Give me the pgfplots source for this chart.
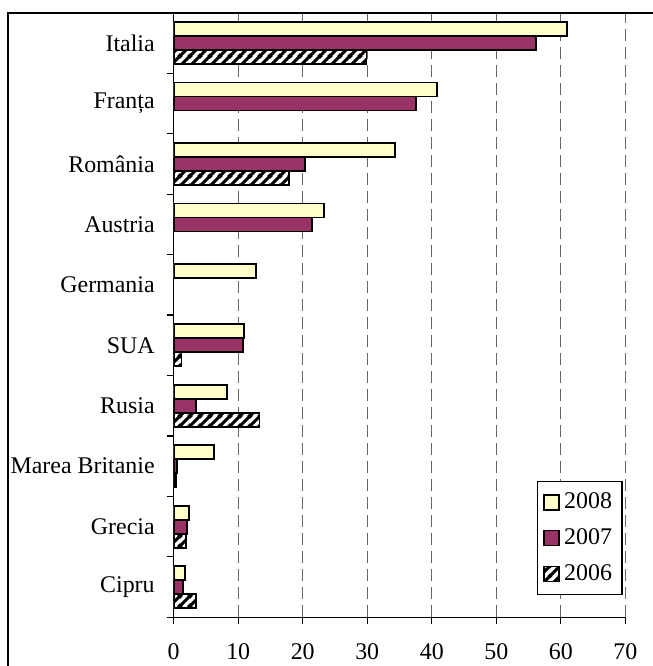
\documentclass[border=0pt]{standalone}
\usepackage{fontspec}
\setmainfont{Liberation Serif}
\usepackage{pgfplots}
\pgfplotsset{compat=1.18}
\usetikzlibrary{patterns}
\definecolor{c2008}{HTML}{FFFFCC}
\definecolor{c2007}{HTML}{993366}
% wide diagonal stripes for the 2006 bars
\pgfdeclarepatternformonly{widestripes}{\pgfqpoint{0bp}{0bp}}{\pgfqpoint{5bp}{5bp}}{\pgfqpoint{5bp}{5bp}}{%
  \pgfsetlinewidth{1.6bp}%
  \pgfpathmoveto{\pgfqpoint{-1bp}{-1bp}}\pgfpathlineto{\pgfqpoint{6bp}{6bp}}%
  \pgfpathmoveto{\pgfqpoint{-1bp}{4bp}}\pgfpathlineto{\pgfqpoint{1bp}{6bp}}%
  \pgfpathmoveto{\pgfqpoint{4bp}{-1bp}}\pgfpathlineto{\pgfqpoint{6bp}{1bp}}%
  \pgfusepath{stroke}}

\begin{document}
\begin{tikzpicture}
\useasboundingbox (-86.85bp,-24.35bp) rectangle (239.65bp,308.65bp);
\begin{axis}[at={(0,0)},anchor=south west,scale only axis,width=225.8bp,height=302.2bp,
  xbar,bar width=7bp,
  xmin=0,xmax=70,xtick={0,10,...,70},
  ymin=-0.5,ymax=9.5,ytick={0,...,9},
  yticklabels={Cipru,Grecia,Marea Britanie,Rusia,SUA,Germania,Austria,România,Franța,Italia},
  minor ytick={-0.5,0.5,...,9.5},
  axis x line*=bottom,axis y line*=left,axis line style={line width=0.6bp},
  tick align=outside,major tick length=3.5bp,minor tick length=3.5bp,
  tick style={black,line width=0.6bp},major y tick style={draw=none},
  xmajorgrids,major x grid style={gray!80!black,line width=0.5bp,dash pattern=on 6bp off 3bp},
  tick label style={font=\fontsize{12}{14}\selectfont},
  xticklabel style={yshift=-6bp},
  yticklabel style={xshift=-2.5bp},
  /pgf/number format/assume math mode=true,
  legend cell align=left,
  legend style={at={(0.994,0.037)},anchor=south east,draw=black,line width=0.6bp,
    font=\fontsize{12}{14}\selectfont,inner xsep=3bp,inner ysep=3.5bp,row sep=4.5bp},
  legend image code/.code={\draw[#1,/tikz/.cd] (0bp,-3.75bp) rectangle (7.5bp,3.75bp);}]
\addplot[draw=black,line width=0.9bp,fill=c2008,bar shift=7bp] coordinates {
  (61.0,9) (40.8,8) (34.3,7) (23.3,6) (12.7,5) (10.9,4) (8.3,3) (6.3,2) (2.4,1) (1.7,0)};
\addlegendentry{2008}
\addplot[draw=black,line width=0.9bp,fill=c2007,bar shift=0bp] coordinates {
  (56.1,9) (37.5,8) (20.4,7) (21.4,6) (10.8,4) (3.5,3) (0.5,2) (2.1,1) (1.5,0)};
\addlegendentry{2007}
\addplot[draw=black,line width=0.9bp,fill=white,postaction={pattern=widestripes},bar shift=-7bp] coordinates {
  (29.9,9) (17.9,7) (1.2,4) (13.3,3) (0.3,2) (1.9,1) (3.4,0)};
\addlegendentry{2006}
\end{axis}
\draw[line width=0.7bp] (-82.85bp,-30bp) -- (-82.85bp,302.2bp) -- (245bp,302.2bp);
\end{tikzpicture}
\end{document}
